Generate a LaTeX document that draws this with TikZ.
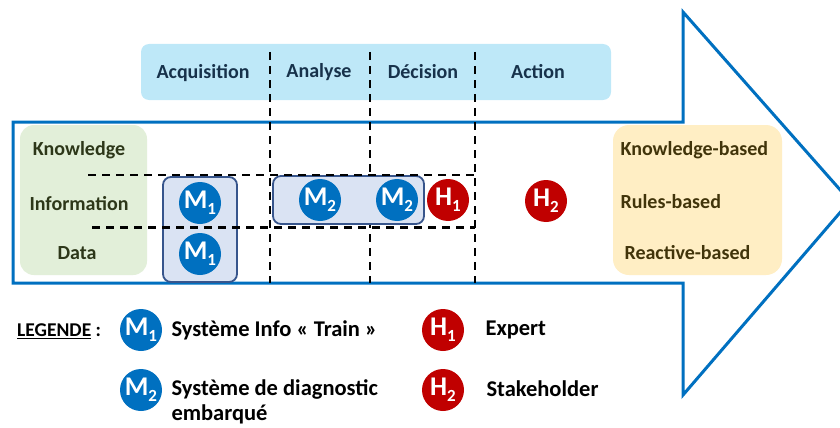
\documentclass[tikz,border=0pt]{standalone}
\usepackage{fontspec}
\setmainfont{Carlito}
\definecolor{arrowblue}{RGB}{0,112,192}
\definecolor{headbg}{RGB}{190,232,248}
\definecolor{greenbg}{RGB}{226,239,217}
\definecolor{yellowbg}{RGB}{255,238,196}
\definecolor{boxfill}{RGB}{218,227,243}
\definecolor{boxline}{RGB}{55,85,140}
\definecolor{mblue}{RGB}{0,112,192}
\definecolor{hred}{RGB}{192,0,0}
\definecolor{headtxt}{RGB}{23,50,75}
\definecolor{greentxt}{RGB}{45,55,25}
\definecolor{yellowtxt}{RGB}{65,52,10}
\newcommand{\lbl}[2]{#1\raisebox{-0.45ex}{\fontsize{17}{17}\selectfont #2}}
\begin{document}
\begin{tikzpicture}[x=1pt,y=-1pt,
  dot/.style={circle,inner sep=0pt,minimum size=42pt,text=white,font=\fontsize{27}{27}\selectfont\bfseries},
  mdot/.style={dot,fill=mblue},
  hdot/.style={dot,fill=hred},
  grp/.style={draw=boxline,line width=1.8pt,fill=boxfill,rounded corners=8pt},
  dsh/.style={draw=black,line width=2.2pt,dash pattern=on 8pt off 6pt},
  head/.style={font=\fontsize{20}{20}\selectfont\bfseries,text=headtxt},
  gtxt/.style={font=\fontsize{20}{20}\selectfont\bfseries,text=greentxt},
  ytxt/.style={font=\fontsize{20}{20}\selectfont\bfseries,text=yellowtxt,anchor=west},
  ltxt/.style={font=\fontsize{22.5}{22.5}\selectfont\bfseries,text=black,anchor=west}]
\useasboundingbox (0,0) rectangle (840,428);
\clip (0,0) rectangle (840,428);
% big arrow
\draw[arrowblue,line width=3pt,fill=white] (13,122) -- (683,122) -- (683,12) -- (850,201) -- (683,395) -- (683,283) -- (13,283) -- cycle;
% header band
\node[fill=headbg,rounded corners=8pt,minimum width=470pt,minimum height=56pt,inner sep=0pt] (band) at (376,72) {};
\node[head] (acq) at (203,73) {Acquisition};
\node[head] (ana) at (319,72) {Analyse};
\node[head] (dec) at (423,72) {Décision};
\node[head] (act) at (538,72) {Action};
% side boxes
\node[fill=greenbg,rounded corners=14pt,minimum width=127pt,minimum height=150pt,inner sep=0pt] (green) at (83.5,200) {};
\node[fill=yellowbg,rounded corners=16pt,minimum width=169pt,minimum height=150pt,inner sep=0pt] (yellow) at (697.5,200) {};
\node[gtxt] (know) at (79,150) {Knowledge};
\node[gtxt] (info) at (79,204) {Information};
\node[gtxt] (data) at (77,253) {Data};
\node[ytxt] (kb) at (617,150) {Knowledge-based};
\node[ytxt] (rb) at (617,202) {Rules-based};
\node[ytxt] (reb) at (621,253) {Reactive-based};
% vertical dashed lines
\coordinate (v1t) at (270,52); \coordinate (v1b) at (270,283);
\coordinate (v2t) at (370,52); \coordinate (v2b) at (370,283);
\coordinate (v3t) at (475,52); \coordinate (v3b) at (475,283);
\draw[dsh] (v1t) -- (v1b);
\draw[dsh] (v2t) -- (v2b);
\draw[dsh] (v3t) -- (v3b);
% group boxes
\node[grp,minimum width=74pt,minimum height=105pt,inner sep=0pt] (g1) at (200,229.5) {};
\node[grp,minimum width=151pt,minimum height=48pt,inner sep=0pt] (g2) at (348.5,200) {};
% horizontal dashed lines
\coordinate (h1l) at (88,175); \coordinate (h1r) at (475,175);
\coordinate (h2l) at (92,227.5); \coordinate (h2r) at (475,227.5);
\draw[dsh] (h1l) -- (h1r);
\draw[dsh] (h2l) -- (h2r);
% actors
\node[mdot] (m1a) at (200,203) {\lbl{M}{1}};
\node[mdot] (m1b) at (200,254) {\lbl{M}{1}};
\node[mdot] (m2a) at (320,200) {\lbl{M}{2}};
\node[mdot] (m2b) at (397,200) {\lbl{M}{2}};
\node[hdot] (h1) at (448,200) {\lbl{H}{1}};
\node[hdot] (h2) at (546,201) {\lbl{H}{2}};
% legend
\node[font=\fontsize{19.5}{19.5}\selectfont\bfseries,anchor=west,inner sep=0pt] (leg) at (17,331) {\underline{LEGENDE} :};
\node[mdot] (lm1) at (141,330) {\lbl{M}{1}};
\node[ltxt] (lm1t) at (168,330) {Système Info « Train »};
\node[hdot] (lh1) at (443,330) {\lbl{H}{1}};
\node[ltxt] (lh1t) at (482,330) {Expert};
\node[mdot] (lm2) at (141,390) {\lbl{M}{2}};
\node[ltxt,align=left] (lm2t) at (168,402) {Système de diagnostic\\[3pt]embarqué};
\node[hdot] (lh2) at (443,390) {\lbl{H}{2}};
\node[ltxt] (lh2t) at (483,389) {Stakeholder};
\end{tikzpicture}
\end{document}
